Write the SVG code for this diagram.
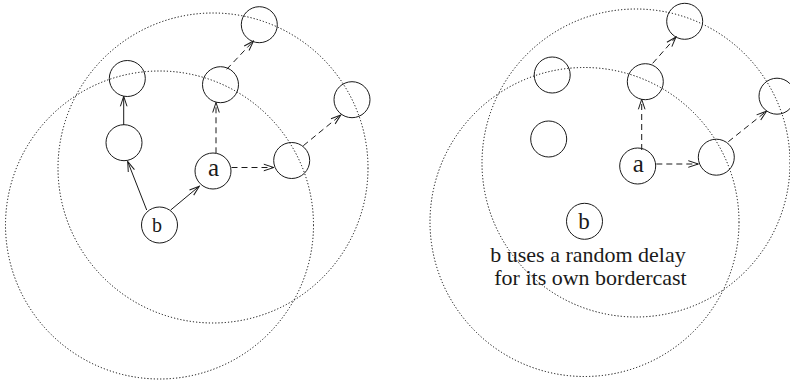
<svg xmlns="http://www.w3.org/2000/svg" width="790" height="382" viewBox="0 0 790 382">
  <style>
    .node { fill: none; stroke: #1a1a1a; stroke-width: 1; }
    .range { fill: none; stroke: #000; stroke-width: 1; stroke-dasharray: 1.2 2; }
    .solid { fill: none; stroke: #1a1a1a; stroke-width: 1; marker-end: url(#head); }
    .dash { fill: none; stroke: #1a1a1a; stroke-width: 1; stroke-dasharray: 6 4; marker-end: url(#head); }
    text { font-family: "Liberation Serif", "DejaVu Serif", "Times New Roman", serif; fill: #1a1a1a; text-anchor: middle; }
  </style>
  <defs>
    <marker id="head" markerUnits="userSpaceOnUse" markerWidth="12" markerHeight="10" viewBox="-1 -5 12 10" refX="10" refY="0" orient="auto">
      <path d="M0,-3.3 L10,0 L0,3.3" fill="none" stroke="#1a1a1a" stroke-width="1"/>
    </marker>
  </defs>

  <!-- transmission ranges -->
  <g id="ranges">
    <circle class="range" cx="159.5" cy="225" r="154"/>
    <circle class="range" cx="213" cy="168" r="155"/>
    <circle class="range" cx="584.5" cy="222" r="154.5"/>
    <circle class="range" cx="636" cy="163" r="154"/>
  </g>

  <!-- left: b forwards after a -->
  <g id="l-top-left"><circle class="node" cx="127.3" cy="78.5" r="18"/></g>
  <g id="l-mid-left"><circle class="node" cx="124" cy="142.7" r="18"/></g>
  <g id="l-b"><circle class="node" cx="159.5" cy="225" r="18"/><text x="157" y="231.7" font-family="Liberation Serif, DejaVu Serif, serif" font-size="20">b</text></g>
  <g id="l-a"><circle class="node" cx="213" cy="171" r="18"/><text x="213.5" y="176.3" font-family="Liberation Serif, DejaVu Serif, serif" font-size="25">a</text></g>
  <g id="l-above-a"><circle class="node" cx="220.5" cy="84.7" r="18"/></g>
  <g id="l-top"><circle class="node" cx="259.3" cy="24.7" r="18"/></g>
  <g id="l-right"><circle class="node" cx="291.7" cy="160.5" r="18"/></g>
  <g id="l-far-right"><circle class="node" cx="352" cy="99.7" r="18"/></g>

  <!-- right: b waits with a random delay -->
  <g id="r-top-left"><circle class="node" cx="552.2" cy="75" r="18"/></g>
  <g id="r-lone"><circle class="node" cx="548.7" cy="139" r="18"/></g>
  <g id="r-above-a"><circle class="node" cx="645.3" cy="81.7" r="18"/></g>
  <g id="r-top"><circle class="node" cx="684.7" cy="21.3" r="18"/></g>
  <g id="r-a"><circle class="node" cx="637.7" cy="166" r="18"/><text x="638.2" y="171.7" font-family="Liberation Serif, DejaVu Serif, serif" font-size="25">a</text></g>
  <g id="r-right"><circle class="node" cx="716.3" cy="157.2" r="18"/></g>
  <g id="r-far-right"><circle class="node" cx="777" cy="96.2" r="18"/></g>
  <g id="r-b"><circle class="node" cx="584.5" cy="221.3" r="18"/><text x="584" y="229" font-family="Liberation Serif, DejaVu Serif, serif" font-size="23">b</text></g>

  <g id="note" font-family="Liberation Serif, DejaVu Serif, serif" font-size="22">
    <text x="588" y="262">b uses a random delay</text>
    <text x="590.5" y="285">for its own bordercast</text>
  </g>

  <!-- connectors -->
  <g id="connectors">
    <line class="solid" x1="146.7" y1="210" x2="127.7" y2="161.5"/>
    <line class="solid" x1="123.7" y1="125" x2="123.7" y2="96.3"/>
    <line class="solid" x1="170.7" y1="210" x2="199.3" y2="186.2"/>
    <line class="dash" x1="216" y1="153.3" x2="216" y2="102.5"/>
    <line class="dash" x1="226.7" y1="69.3" x2="253.5" y2="41"/>
    <line class="dash" x1="231.5" y1="167.5" x2="273.8" y2="167.5"/>
    <line class="dash" x1="303.3" y1="145.7" x2="340.8" y2="115"/>

    <line class="dash" x1="641.7" y1="150" x2="641.7" y2="99.3"/>
    <line class="dash" x1="652.7" y1="63.3" x2="676" y2="37"/>
    <line class="dash" x1="656.3" y1="164" x2="698.3" y2="164"/>
    <line class="dash" x1="728.3" y1="141.7" x2="766.5" y2="111.2"/>
  </g>
</svg>
